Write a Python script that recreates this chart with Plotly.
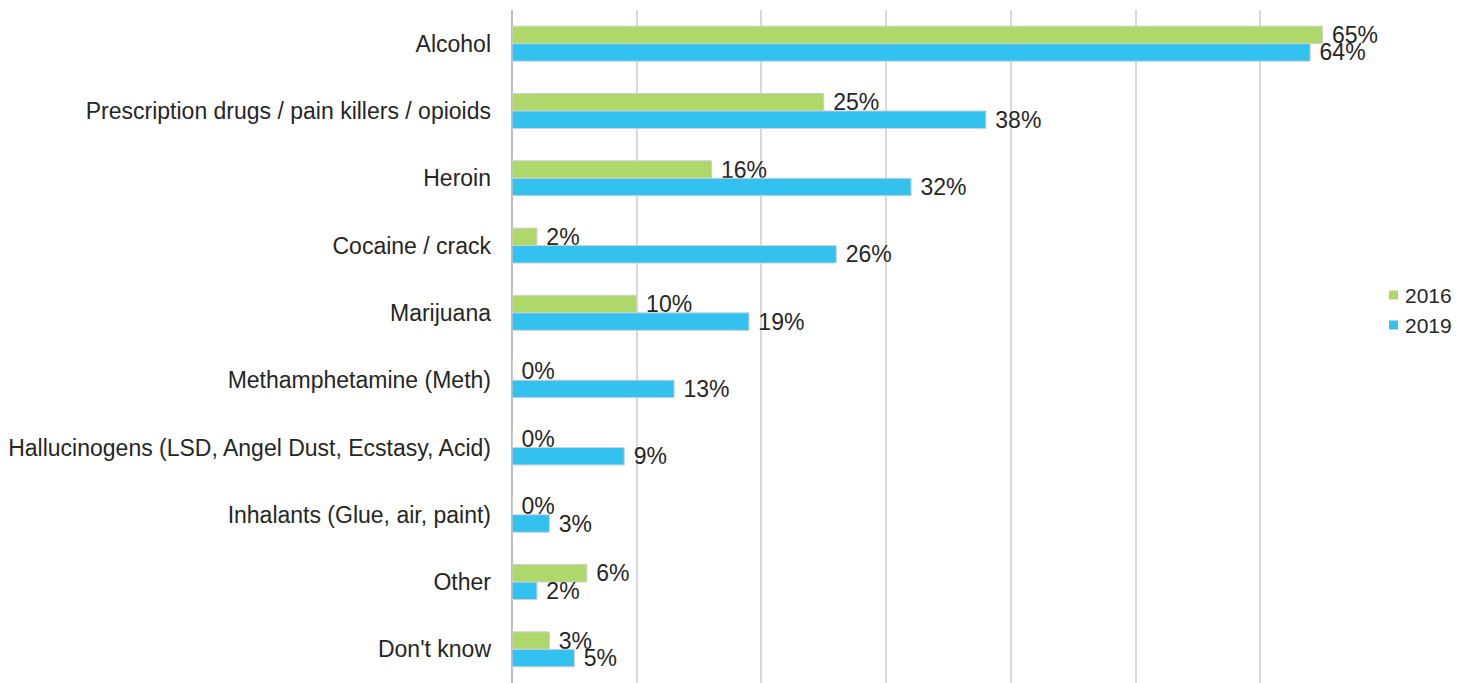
import plotly.graph_objects as go

categories = ["Alcohol", "Prescription drugs / pain killers / opioids", "Heroin", "Cocaine / crack",
              "Marijuana", "Methamphetamine (Meth)", "Hallucinogens (LSD, Angel Dust, Ecstasy, Acid)",
              "Inhalants (Glue, air, paint)", "Other", "Don't know"]
values_2016 = [65, 25, 16, 2, 10, 0, 0, 0, 6, 3]
values_2019 = [64, 38, 32, 26, 19, 13, 9, 3, 2, 5]
series_names = ["2016", "2019"]
colors = ["#AFD86B", "#33C1EF"]

FONT = "Liberation Sans, Arial"
TXT = "#262626"

fig = go.Figure()
for name, vals, col in zip(series_names, [values_2016, values_2019], colors):
    fig.add_trace(go.Bar(
        y=categories, x=vals, name=name, orientation="h",
        marker=dict(color=col, line=dict(color="#d0d0d0", width=1)),
        text=[f"\u00a0{v}%" for v in vals], textposition="outside",
        constraintext="none",
        textfont=dict(size=23, color=TXT, family=FONT),
        cliponaxis=False, showlegend=False,
    ))

# legend drawn as layout items (paper coordinates)
W, H = 873.0, 673.0
def px_x(p):
    return (p - 512) / W
def px_y(p):
    return 1 - (p - 10) / H

legend_rows = [(295, colors[0], series_names[0]), (325, colors[1], series_names[1])]
for cy, col, name in legend_rows:
    fig.add_shape(type="rect", xref="paper", yref="paper",
                  x0=px_x(1389), x1=px_x(1398), y0=px_y(cy - 4.5), y1=px_y(cy + 4.5),
                  fillcolor=col, line=dict(width=0))
    fig.add_annotation(xref="paper", yref="paper", x=px_x(1403), y=px_y(cy),
                       xanchor="left", yanchor="middle", text=name, showarrow=False,
                       font=dict(size=21, color=TXT, family=FONT))

fig.update_layout(
    width=1475, height=683,
    margin=dict(l=504, r=98, t=2, b=8, autoexpand=False),
    paper_bgcolor="white", plot_bgcolor="white",
    barmode="group", bargap=0.48, bargroupgap=0,
    showlegend=False,
    font=dict(family=FONT, size=22, color=TXT),
    xaxis=dict(range=[0, 70], dtick=10, showticklabels=False, showgrid=True,
               gridcolor="#d9d9d9", gridwidth=2, zeroline=True, zerolinecolor="#bfbfbf",
               zerolinewidth=2, fixedrange=True),
    yaxis=dict(autorange="reversed", showgrid=False, ticks="", ticklabelstandoff=20,
               tickfont=dict(size=23, color=TXT, family=FONT)),
)

fig.write_html("out.html")
